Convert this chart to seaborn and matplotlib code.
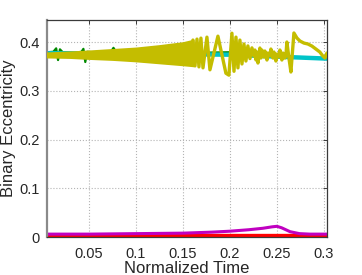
import matplotlib

matplotlib.use("Agg")

import matplotlib.pyplot as plt
import seaborn as sns

# --- data ------------------------------------------------------------------
# yellow run: dense fast-oscillation band (envelope) for early times
band_t = [0.005, 0.03, 0.05, 0.075, 0.1, 0.125, 0.15, 0.161]
band_hi = [0.378, 0.380, 0.382, 0.385, 0.388, 0.393, 0.399, 0.404]
band_lo = [0.369, 0.368, 0.366, 0.364, 0.361, 0.357, 0.353, 0.351]

# yellow run: resolved oscillations afterwards
yel_t = [0.1606, 0.1628, 0.1649, 0.1670, 0.1691, 0.1713, 0.1755, 0.1787,
         0.1872, 0.1957, 0.1989, 0.2021, 0.2043, 0.2064, 0.2085, 0.2106,
         0.2128, 0.2149, 0.2170, 0.2191, 0.2213, 0.2234, 0.2255,
         0.2266, 0.2277, 0.2287, 0.2298, 0.2319, 0.2330, 0.2340, 0.2362,
         0.2372, 0.2394, 0.2404, 0.2426, 0.2436, 0.2457, 0.2468, 0.2489,
         0.2500, 0.2521, 0.2532, 0.2553, 0.2564, 0.2585, 0.2596, 0.2606,
         0.2628, 0.2649, 0.2681, 0.2713, 0.2745, 0.2787, 0.2830, 0.2872,
         0.2915, 0.2957, 0.2989, 0.3011, 0.3032]
yel_e = [0.404, 0.351, 0.406, 0.349, 0.408, 0.347, 0.410, 0.343,
         0.412, 0.336, 0.332, 0.418, 0.340, 0.410, 0.347, 0.404,
         0.355, 0.396, 0.361, 0.392, 0.366, 0.388, 0.371,
         0.3836, 0.3631, 0.3795, 0.3569, 0.3877, 0.3672, 0.3836, 0.3692,
         0.3815, 0.3631, 0.3774, 0.3713, 0.3856, 0.3672, 0.3795, 0.3610,
         0.3754, 0.3692, 0.3836, 0.3631, 0.3774, 0.3672, 0.3733, 0.4000,
         0.3672, 0.3385, 0.4185, 0.4082, 0.4021, 0.3979, 0.3959, 0.3918,
         0.3856, 0.3795, 0.3713, 0.3672, 0.3774]

# green run (mostly hidden under the yellow one)
grn_t = [0.005, 0.012, 0.015, 0.017, 0.019, 0.022, 0.035, 0.042, 0.044,
         0.046, 0.048, 0.060, 0.073, 0.076, 0.079, 0.120, 0.170, 0.200]
grn_e = [0.379, 0.380, 0.387, 0.363, 0.385, 0.379, 0.378, 0.380, 0.386,
         0.359, 0.380, 0.378, 0.379, 0.388, 0.379, 0.378, 0.378, 0.379]

# cyan run
cyn_t = [0.005, 0.10, 0.20, 0.25, 0.303]
cyn_e = [0.377, 0.376, 0.374, 0.370, 0.366]

# magenta run
mag_t = [0.005, 0.05, 0.10, 0.15, 0.18, 0.20, 0.22, 0.235, 0.245, 0.25,
         0.255, 0.264, 0.274, 0.285, 0.303]
mag_e = [0.006, 0.006, 0.007, 0.008, 0.010, 0.012, 0.015, 0.018, 0.021,
         0.022, 0.019, 0.011, 0.007, 0.006, 0.006]

# red run
red_t = [0.005, 0.303]
red_e = [0.004, 0.004]

xticks = [0.05, 0.1, 0.15, 0.2, 0.25, 0.3]
xtick_labels = ["0.05", "0.1", "0.15", "0.2", "0.25", "0.3"]
yticks = [0, 0.1, 0.2, 0.3, 0.4]
ytick_labels = ["0", "0.1", "0.2", "0.3", "0.4"]

YELLOW = "#c4bd00"
CYAN = "#00c4c8"
GREEN = "#008a00"
MAGENTA = "#c000c0"
RED = "#ff0000"

sns.set_theme(style="white")
plt.rcParams["font.family"] = ["Liberation Sans", "DejaVu Sans"]

fig = plt.figure(figsize=(3.62, 2.75), dpi=100)
ax = fig.add_axes([0.130, 0.138, 0.773, 0.789])

sns.lineplot(x=red_t, y=red_e, color=RED, lw=2.4, ax=ax,
             estimator=None, sort=False, zorder=2)
sns.lineplot(x=mag_t, y=mag_e, color=MAGENTA, lw=2.2, ax=ax,
             estimator=None, sort=False, zorder=2.1)
sns.lineplot(x=grn_t, y=grn_e, color=GREEN, lw=1.6, ax=ax,
             estimator=None, sort=False, zorder=2.2)
sns.lineplot(x=cyn_t, y=cyn_e, color=CYAN, lw=3.2, ax=ax,
             estimator=None, sort=False, zorder=2.3)
ax.fill_between(band_t, band_lo, band_hi, color=YELLOW, lw=1.2,
                edgecolor=YELLOW, zorder=3)
sns.lineplot(x=yel_t, y=yel_e, color=YELLOW, lw=2.4, ax=ax,
             estimator=None, sort=False, zorder=3.1)

ax.set_xlim(0.0053, 0.3032)
ax.set_ylim(0, 0.445)
ax.set_xticks(xticks)
ax.set_xticklabels(xtick_labels)
ax.set_yticks(yticks)
ax.set_yticklabels(ytick_labels)

ax.grid(True, linestyle=":", color="#b4b4b4", lw=0.8)
ax.set_axisbelow(True)
for side in ax.spines.values():
    side.set_color("#3a3a3a")
    side.set_linewidth(0.9)
ax.spines["left"].set_color("#8a8a8a")
ax.spines["left"].set_linewidth(1.6)

ax.tick_params(direction="in", length=3, width=0.7, color="#3a3a3a",
               top=True, right=True, labelsize=10.5, pad=5)
ax.tick_params(axis="x", pad=7)
ax.set_xlabel("Normalized Time", fontsize=12, labelpad=0)
ax.set_ylabel("Binary Eccentricity", fontsize=12, labelpad=3)

fig.savefig("out.png", dpi=100)
